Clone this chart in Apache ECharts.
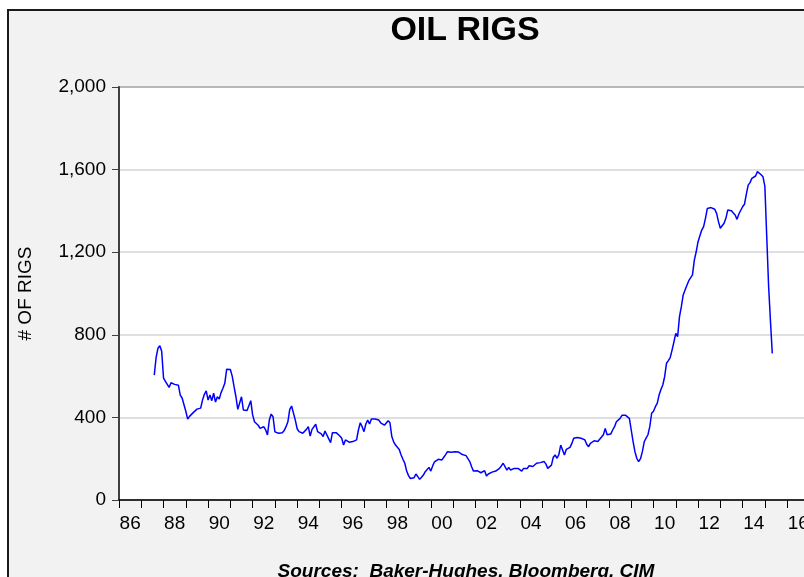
<!DOCTYPE html>
<html>
<head>
<meta charset="utf-8">
<script src="https://cdn.jsdelivr.net/npm/echarts@6/dist/echarts.min.js"></script>
<style>
html,body{margin:0;padding:0;overflow:hidden;background:#fff;}
#chart{width:900px;height:577px;}
</style>
</head>
<body>
<div id="chart"></div>
<script>
// Tick labels of the year axis (two-digit years, 1986..2016)
const yearLabels = ['86','87','88','89','90','91','92','93','94','95','96','97','98','99','00',
  '01','02','03','04','05','06','07','08','09','10','11','12','13','14','15','16'];
const yTicks = [0, 400, 800, 1200, 1600, 2000];

// Monthly US oil rig counts (series starts Aug 1987)
const startYear = 1987, startMonth = 8;
const r1987 = [605, 690, 735, 747, 720];
const r1988 = [590, 575, 580, 545, 568, 560, 560, 552, 556, 508, 494, 498];
const r1989 = [430, 392, 405, 412, 423, 430, 440, 438, 445, 484, 512, 528];
const r1990 = [484, 508, 481, 517, 474, 500, 489, 520, 541, 565, 633, 635];
const r1991 = [632, 600, 549, 500, 439, 445, 500, 436, 440, 433, 440, 481];
const r1992 = [412, 379, 380, 362, 347, 347, 355, 340, 315, 387, 416, 403];
const r1993 = [330, 323, 323, 318, 326, 336, 355, 379, 439, 455, 463, 387];
const r1994 = [345, 331, 328, 323, 320, 342, 355, 310, 342, 347, 367, 331];
const r1995 = [339, 320, 307, 334, 315, 307, 278, 326, 328, 326, 323, 310];
const r1996 = [299, 266, 291, 285, 280, 286, 283, 279, 291, 339, 374, 355];
const r1997 = [331, 368, 387, 368, 392, 390, 392, 394, 387, 374, 370, 362];
const r1998 = [355, 384, 374, 307, 282, 266, 266, 245, 218, 197, 178, 140];
const r1999 = [118, 104, 102, 108, 126, 113, 100, 110, 121, 137, 137, 158];
const r2000 = [140, 165, 185, 194, 197, 200, 194, 207, 220, 234, 234, 231];
const r2001 = [231, 234, 237, 232, 226, 220, 213, 215, 200, 186, 161, 140];
const r2002 = [140, 142, 145, 132, 135, 142, 116, 126, 129, 135, 142, 140];
const r2003 = [137, 153, 165, 178, 175, 145, 158, 145, 150, 153, 145, 153];
const r2004 = [145, 140, 153, 161, 153, 166, 165, 162, 169, 178, 181, 181];
const r2005 = [181, 186, 175, 153, 145, 169, 207, 218, 202, 220, 266, 242];
const r2006 = [218, 245, 250, 255, 274, 299, 300, 303, 300, 299, 291, 291];
const r2007 = [270, 258, 274, 278, 287, 283, 283, 294, 300, 316, 347, 316];
const r2008 = [307, 320, 339, 355, 379, 374, 395, 410, 419, 410, 403, 395];
const r2009 = [339, 283, 234, 202, 186, 200, 234, 282, 300, 316, 355, 420];
const r2010 = [430, 452, 468, 508, 535, 557, 597, 662, 675, 690, 726, 765];
const r2011 = [807, 791, 888, 936, 993, 1017, 1040, 1062, 1062, 1090, 1162, 1202];
const r2012 = [1251, 1280, 1307, 1324, 1364, 1412, 1416, 1416, 1412, 1408, 1388, 1348];
const r2013 = [1316, 1324, 1340, 1364, 1404, 1396, 1401, 1390, 1380, 1359, 1385, 1380];
const r2014 = [1420, 1432, 1480, 1525, 1537, 1558, 1565, 1569, 1590, 1582, 1575, 1565];
const r2015 = [1520, 1280, 1040, 870, 710];

const rigs = [].concat(r1987, r1988, r1989, r1990, r1991, r1992, r1993, r1994, r1995,
  r1996, r1997, r1998, r1999, r2000, r2001, r2002, r2003, r2004, r2005, r2006, r2007,
  r2008, r2009, r2010, r2011, r2012, r2013, r2014, r2015);
const seriesData = rigs.map((v, i) => [startYear + (startMonth - 1 + i) / 12, v]);

const FONT = '"Liberation Sans", Arial, sans-serif';
const chart = echarts.init(document.getElementById('chart'), null, {renderer: 'canvas'});
chart.setOption({
  animation: false,
  backgroundColor: '#ffffff',
  graphic: [
    {type: 'rect', z: -10, silent: true,
     shape: {x: 8, y: 10, width: 1200, height: 800},
     style: {fill: '#f2f2f2', stroke: '#1a1a1a', lineWidth: 2}},
    {type: 'text', x: 465, y: 31, z: 10,
     style: {text: 'OIL RIGS', fontSize: 34, fontWeight: 'bold', fontFamily: FONT, fill: '#000',
       textAlign: 'center', textVerticalAlign: 'middle'}},
    {type: 'text', x: 466, y: 572, z: 10,
     style: {text: 'Sources:  Baker-Hughes, Bloomberg, CIM', fontSize: 19, fontWeight: 'bold', fontStyle: 'italic',
       fontFamily: FONT, fill: '#000', textAlign: 'center', textVerticalAlign: 'middle'}}
  ],
  grid: {left: 119, top: 87, width: 690.4, height: 413, show: true, backgroundColor: '#ffffff',
         borderColor: '#333333', borderWidth: 1.5, containLabel: false},
  xAxis: [
    {type: 'category', data: yearLabels, boundaryGap: true, position: 'bottom',
     axisLine: {show: true, lineStyle: {color: '#000', width: 1.5}},
     axisTick: {show: true, interval: 0, length: 8, lineStyle: {color: '#000', width: 1}},
     axisLabel: {interval: 1, margin: 14, fontSize: 19, fontFamily: FONT, color: '#000'},
     splitLine: {show: false}},
    {type: 'value', min: 1986, max: 2017, show: false, splitLine: {show: false}}
  ],
  yAxis: {
    type: 'value', min: yTicks[0], max: yTicks[yTicks.length - 1], interval: 400,
    name: '# OF RIGS', nameLocation: 'middle', nameGap: 84, nameRotate: 90,
    nameTextStyle: {fontSize: 19, fontFamily: FONT, color: '#000'},
    axisLine: {show: true, lineStyle: {color: '#404040', width: 2}},
    axisTick: {show: true, length: 7, lineStyle: {color: '#404040', width: 1}},
    axisLabel: {margin: 13, fontSize: 19, fontFamily: FONT, color: '#000',
      formatter: v => v.toLocaleString('en-US')},
    splitLine: {show: true, lineStyle: {color: '#d4d4d4', width: 1.5}}
  },
  series: [{
    type: 'line', xAxisIndex: 1, data: seriesData, showSymbol: false, symbol: 'none',
    lineStyle: {color: '#0000ff', width: 1.5}, smooth: false
  }]
});
</script>
</body>
</html>
